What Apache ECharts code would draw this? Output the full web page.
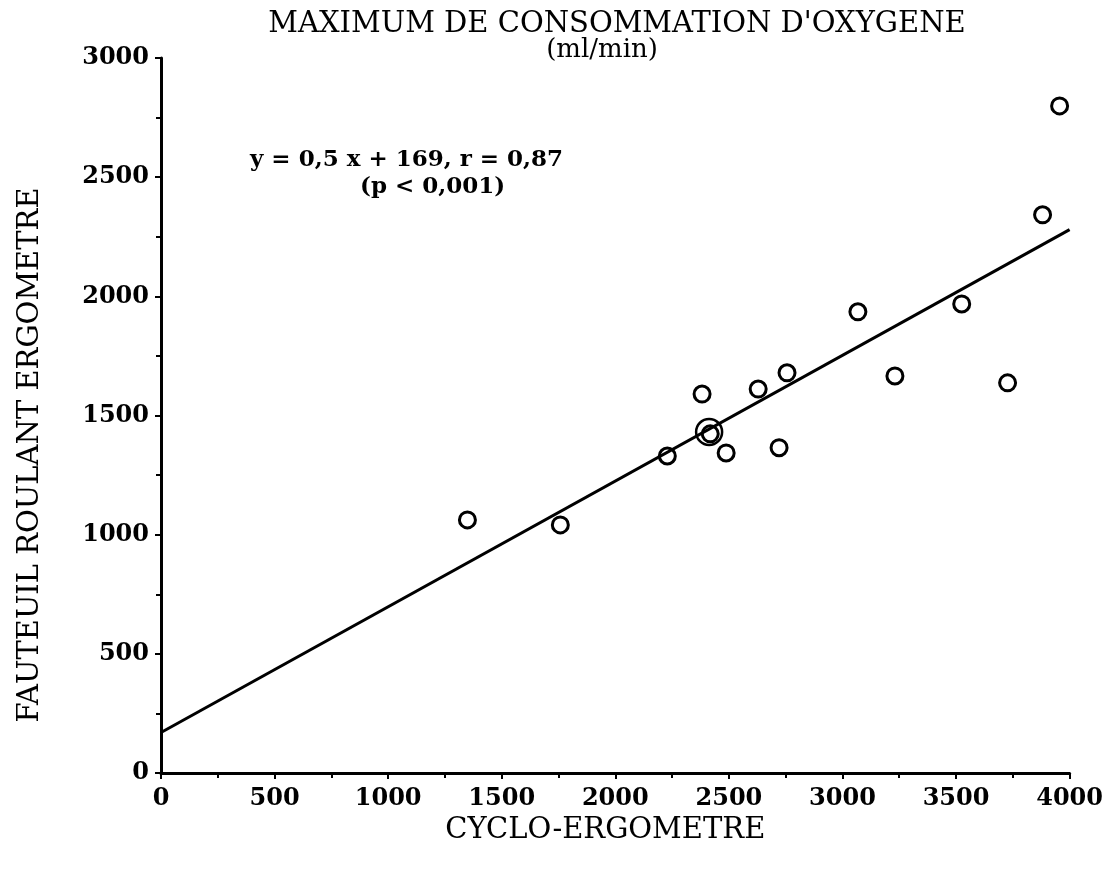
<!DOCTYPE html>
<html>
<head>
<meta charset="utf-8">
<script src="https://cdn.jsdelivr.net/npm/echarts@6/dist/echarts.min.js"></script>
<style>html,body{margin:0;padding:0;background:#fff}#c{width:1106px;height:869px}</style>
</head>
<body>
<div id="c"></div>
<script>
const titleLines = ["MAXIMUM DE CONSOMMATION D'OXYGENE", "(ml/min)"];
const xName = "CYCLO-ERGOMETRE";
const yName = "FAUTEUIL ROULANT ERGOMETRE";
const equationText = "y = 0,5 x + 169, r = 0,87";
const pText = "(p < 0,001)";
const cycloX = [1349, 1758, 2229, 2382, 2418, 2488, 2629, 2721, 2756, 3068, 3231, 3525, 3727, 3881, 3956];
const fauteuilY = [1062, 1041, 1330, 1590, 1423, 1343, 1611, 1365, 1679, 1935, 1666, 1968, 1637, 2342, 2799];
const doubleX = [2413];
const doubleY = [1431];
const lineX = [0, 4000];
const lineY = [170, 2280];
const xTicks = [0, 500, 1000, 1500, 2000, 2500, 3000, 3500, 4000];
const yTicks = [0, 500, 1000, 1500, 2000, 2500, 3000];

const serif = "'DejaVu Serif', 'Liberation Serif', serif";
const chart = echarts.init(document.getElementById('c'));
const pts = cycloX.map((x, i) => [x, fauteuilY[i]]);
const dbl = doubleX.map((x, i) => [x, doubleY[i]]);
const ln = lineX.map((x, i) => [x, lineY[i]]);
const axisCommon = {
  axisLine: {show: true, onZero: false, lineStyle: {color: '#000', width: 3}},
  axisTick: {show: true, length: 6, lineStyle: {color: '#000', width: 2}},
  minorTick: {show: true, splitNumber: 2, length: 5, lineStyle: {color: '#000', width: 2}},
  splitLine: {show: false},
  axisLabel: {color: '#000', fontFamily: serif, fontWeight: 'bold', fontSize: 24}
};
chart.setOption({
  backgroundColor: '#fff',
  animation: false,
  title: [
    {text: titleLines[0], left: 612, top: 5, textAlign: 'center',
     textStyle: {fontFamily: serif, fontWeight: 'normal', fontSize: 29, color: '#000'}},
    {text: titleLines[1], left: 597, top: 32, textAlign: 'center',
     textStyle: {fontFamily: serif, fontWeight: 'normal', fontSize: 26, color: '#000'}}
  ],
  grid: {left: 161, right: 34, top: 58, bottom: 96, containLabel: false},
  xAxis: Object.assign({}, axisCommon, {
    type: 'value', min: 0, max: 4000, interval: 500,
    name: xName, nameLocation: 'middle', nameGap: 42,
    nameTextStyle: {color: '#000', fontFamily: serif, fontSize: 29, padding: [0, 0, 0, -20]},
    axisLabel: Object.assign({}, axisCommon.axisLabel, {margin: 14,
      formatter: v => xTicks.includes(v) ? String(v) : ''})
  }),
  yAxis: Object.assign({}, axisCommon, {
    type: 'value', min: 0, max: 3000, interval: 500,
    name: '',
    axisLabel: Object.assign({}, axisCommon.axisLabel, {margin: 12,
      formatter: v => yTicks.includes(v) ? String(v) : ''})
  }),
  graphic: [
    {type: 'text', x: 30, y: 455, rotation: Math.PI / 2,
     style: {text: yName, font: "29px 'DejaVu Serif', serif", fill: '#000', textAlign: 'center', textVerticalAlign: 'middle'}},
    {type: 'text', left: 250, top: 149, style: {text: equationText, font: "bold 23px 'DejaVu Serif', serif", fill: '#000'}},
    {type: 'text', left: 360, top: 176, style: {text: pText, font: "bold 23px 'DejaVu Serif', serif", fill: '#000'}}
  ],
  series: [
    {type: 'line', data: ln, symbol: 'none', lineStyle: {color: '#000', width: 3}, z: 2},
    {type: 'scatter', data: pts, symbol: 'circle', symbolSize: 16,
     itemStyle: {color: 'rgba(255,255,255,0)', borderColor: '#000', borderWidth: 3, opacity: 1}, z: 3},
    {type: 'scatter', data: dbl, symbol: 'circle', symbolSize: 26,
     itemStyle: {color: 'rgba(255,255,255,0)', borderColor: '#000', borderWidth: 2.5, opacity: 1}, z: 3}
  ]
});
</script>
</body>
</html>
